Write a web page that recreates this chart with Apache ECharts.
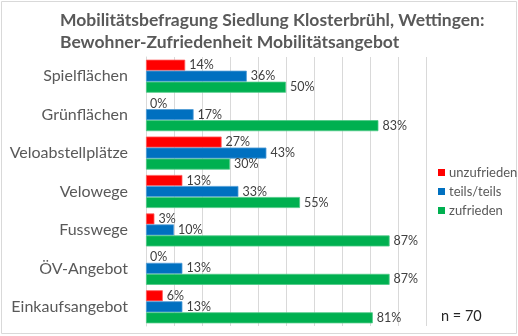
<!DOCTYPE html>
<html>
<head>
<meta charset="utf-8">
<script src="https://cdn.jsdelivr.net/npm/echarts@6/dist/echarts.min.js"></script>
<style>
  html, body { margin: 0; padding: 0; background: #fff; }
  #chart { width: 518px; height: 336px; }
</style>
</head>
<body>
<div id="chart"></div>
<script>
// Survey categories, top to bottom
const categories = ['Spielflächen', 'Grünflächen', 'Veloabstellplätze', 'Velowege', 'Fusswege', 'ÖV-Angebot', 'Einkaufsangebot'];
// Shares in percent per answer
const unzufrieden = [14, 0, 27, 13, 3, 0, 6];
const teilsTeils = [36, 17, 43, 33, 10, 13, 13];
const zufrieden = [50, 83, 30, 55, 87, 87, 81];
const seriesNames = ['unzufrieden', 'teils/teils', 'zufrieden'];
const sampleNote = 'n = 70';

const FONT = 'Lato, "Open Sans", sans-serif';
const colors = ['#ff0000', '#0070c0', '#00b050'];
const borders = ['#ff5a5a', '#4d9bd6', '#4dc985'];

function barSeries(name, data, i) {
  return {
    name: name,
    type: 'bar',
    // zero values get no outline so no sliver is drawn
    data: data.map(v => ({ value: v, itemStyle: { borderWidth: v > 0 ? 0.8 : 0 } })),
    barGap: '0%',
    barCategoryGap: '14%',
    itemStyle: { color: colors[i], borderColor: borders[i] },
    label: {
      show: true,
      position: 'right',
      distance: 4,
      formatter: '{c}%',
      color: '#404040',
      fontFamily: FONT,
      fontSize: 12.5
    }
  };
}

const chart = echarts.init(document.getElementById('chart'), null, { renderer: 'canvas' });
chart.setOption({
  animation: false,
  title: {
    text: 'Mobilitätsbefragung Siedlung Klosterbrühl, Wettingen:\nBewohner-Zufriedenheit Mobilitätsangebot',
    left: 55,
    top: 4,
    textStyle: { color: '#595959', fontFamily: FONT, fontSize: 17.5, fontWeight: 'bold', lineHeight: 22 }
  },
  legend: {
    orient: 'vertical',
    left: 433,
    top: 161,
    icon: 'rect',
    itemWidth: 7,
    itemHeight: 7,
    itemGap: 6,
    data: seriesNames,
    textStyle: { color: '#595959', fontFamily: FONT, fontSize: 13, lineHeight: 13, padding: [0, 0, 0, -1] }
  },
  grid: { left: 146, right: 92, top: 57, bottom: 10, containLabel: false },
  xAxis: {
    type: 'value',
    min: 0,
    max: 100,
    interval: 10,
    axisLabel: { show: false },
    axisTick: { show: false },
    axisLine: { show: false },
    splitLine: { lineStyle: { color: '#d9d9d9', width: 1 } }
  },
  yAxis: {
    type: 'category',
    inverse: true,
    data: categories,
    axisTick: { show: false },
    axisLine: { lineStyle: { color: '#d9d9d9' } },
    axisLabel: { color: '#595959', fontFamily: FONT, fontSize: 16, margin: 18 }
  },
  graphic: [
    {
      type: 'rect',
      shape: { x: 1.5, y: 1.5, width: 515, height: 332 },
      style: { fill: 'none', stroke: '#d9d9d9', lineWidth: 1 },
      silent: true
    },
    {
      type: 'text',
      left: 441,
      top: 309,
      style: { text: sampleNote, fill: '#262626', font: '14.5px ' + FONT }
    }
  ],
  series: [
    barSeries(seriesNames[0], unzufrieden, 0),
    barSeries(seriesNames[1], teilsTeils, 1),
    barSeries(seriesNames[2], zufrieden, 2)
  ]
});
</script>
</body>
</html>
